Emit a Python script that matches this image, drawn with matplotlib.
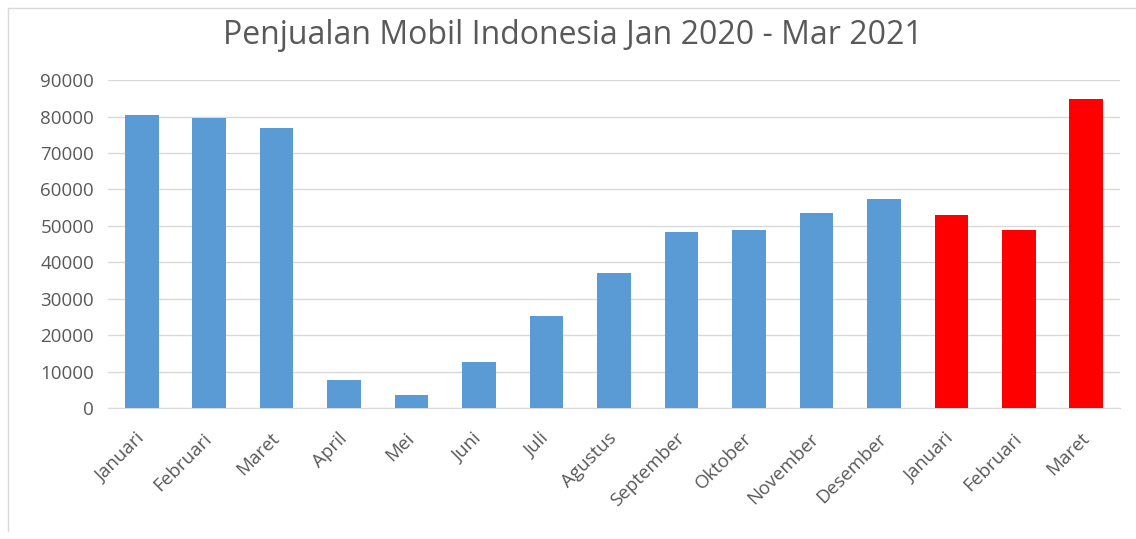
import matplotlib
matplotlib.use("Agg")
import matplotlib.pyplot as plt
from matplotlib.lines import Line2D

categories = ["Januari", "Februari", "Maret", "April", "Mei", "Juni", "Juli",
              "Agustus", "September", "Oktober", "November", "Desember",
              "Januari", "Februari", "Maret"]
sales = [80400, 79500, 76750, 7770, 3470, 12520, 25220,
         37190, 48340, 48880, 53640, 57380, 52900, 48980, 84890]
year_2021 = [False] * 12 + [True] * 3
yticks = [0, 10000, 20000, 30000, 40000, 50000, 60000, 70000, 80000, 90000]
title = "Penjualan Mobil Indonesia Jan 2020 - Mar 2021"

plt.rcParams['font.family'] = ['Open Sans', 'DejaVu Sans']
txt = "#595959"

fig = plt.figure(figsize=(11.36, 5.39), dpi=100)
ax = fig.add_axes([0.095, 0.243, 0.891, 0.6084])

colors = ["#FF0000" if r else "#5B9BD5" for r in year_2021]
x = list(range(len(categories)))
ax.bar(x, sales, width=0.5, color=colors, zorder=3)

ax.set_xlim(-0.5, len(categories) - 0.5)
ax.set_ylim(0, 90000)
ax.set_yticks(yticks)
ax.set_yticklabels([str(v) for v in yticks], color=txt, fontsize=13.5)
ax.set_xticks(x)
ax.set_xticklabels(categories, rotation=45, ha="right", va="center",
                   rotation_mode="anchor", color=txt, fontsize=13.5)
ax.tick_params(axis="both", length=0)
ax.tick_params(axis="y", pad=10)
ax.tick_params(axis="x", pad=20)
ax.grid(axis="y", color="#d9d9d9", linewidth=1, zorder=0)
for s in ["top", "right", "left"]:
    ax.spines[s].set_visible(False)
ax.spines["bottom"].set_color("#d9d9d9")

fig.text(0.504, 0.935, title, ha="center", va="center", fontsize=23, color=txt)

fig.add_artist(Line2D([0.007, 0.007], [0.015, 0.985], color="#d9d9d9", lw=1, transform=fig.transFigure))
fig.add_artist(Line2D([0.007, 1.0], [0.985, 0.985], color="#d9d9d9", lw=1, transform=fig.transFigure))

fig.savefig("out.png", dpi=100)
